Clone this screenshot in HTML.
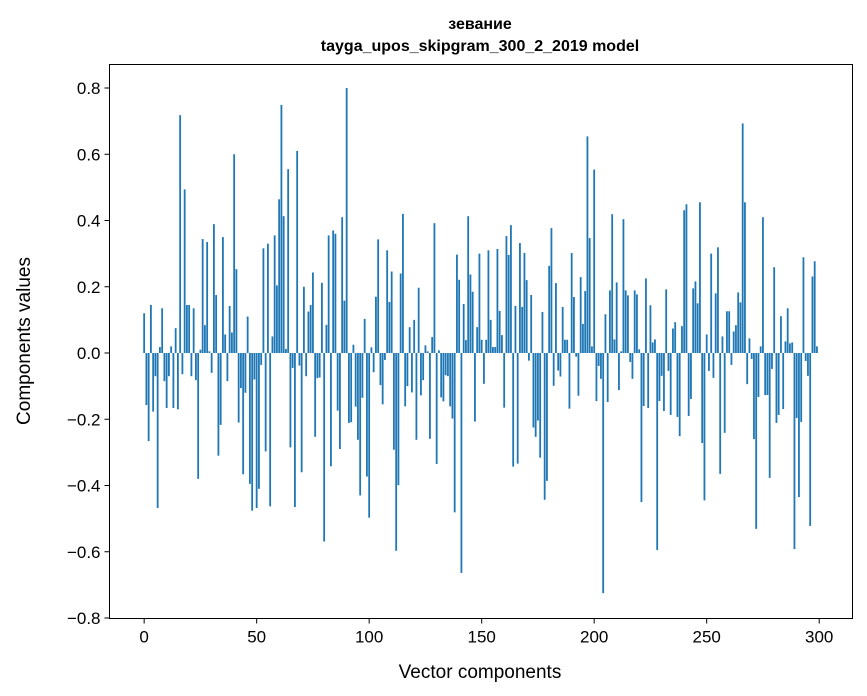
<!DOCTYPE html>
<html><head><meta charset="utf-8"><style>
html,body{margin:0;padding:0;background:#fff;}
svg{display:block;font-family:"Liberation Sans","DejaVu Sans",sans-serif;}
</style></head><body>
<svg id="chart" width="867" height="696" viewBox="0 0 867 696">
<text x="480" y="29" text-anchor="middle" font-size="16" font-weight="bold">зевание</text>
<text x="480" y="51" text-anchor="middle" font-size="16" font-weight="bold">tayga_upos_skipgram_300_2_2019 model</text>
<g id="bars"></g>
<g id="xticks"></g>
<g id="yticks"></g>
<rect x="109.5" y="64.5" width="743" height="554" fill="none" stroke="#000" stroke-width="1"/>
<text x="480" y="678" text-anchor="middle" font-size="19">Vector components</text>
<text transform="translate(30,341) rotate(-90)" text-anchor="middle" font-size="19">Components values</text>
</svg>
<script>
const values = [
.12,-.157,-.266,.145,-.177,-.07,-.468,.018,.135,-.085,
-.166,-.07,.02,-.166,.075,-.17,.718,-.064,.494,.145,
.145,-.07,.135,-.082,-.38,.01,.344,.084,.335,.005,
-.06,.389,.175,-.31,-.217,.35,.056,-.085,.142,.062,
.6,.253,-.21,-.106,-.366,-.12,.11,-.395,-.476,-.08,
-.468,-.41,-.036,.316,-.297,.33,-.463,.05,.355,.204,
.464,.749,.413,.012,.555,-.285,-.045,-.465,.61,-.038,
-.36,.2,-.07,.125,.145,.243,-.253,-.076,-.074,.212,
-.569,.085,.355,-.342,.37,.36,-.174,-.29,.41,.158,
.8,-.211,-.209,.025,-.162,-.262,-.43,-.135,.103,-.373,
-.497,.017,-.058,.17,.343,-.097,-.155,-.021,.31,.154,
.246,-.292,-.597,-.399,.24,.42,-.161,-.1,.078,-.119,
.1,-.262,.197,-.128,-.082,.023,.005,-.259,.048,.392,
-.335,.008,-.134,-.146,-.067,-.07,-.161,-.198,-.481,.297,
.221,-.664,.148,.039,.413,.237,.185,-.207,.078,.3,
.04,-.093,.04,.31,.1,.018,.018,.314,.127,.054,
-.165,.353,.296,.386,-.343,.142,-.334,.332,.139,.302,
.22,-.023,.175,-.225,-.253,-.204,-.316,.124,-.443,-.386,
.263,.377,-.099,.211,-.053,-.071,.139,.04,.04,-.168,
.302,.169,-.011,-.129,.229,.088,.187,.654,.347,.02,
.554,-.145,-.039,-.078,-.725,.117,-.148,.189,.419,.041,
.213,-.112,.005,.404,.189,.174,-.027,-.078,.189,.177,
.011,-.45,-.16,.225,-.166,.144,.032,.041,-.595,-.145,
-.069,-.175,.192,-.054,-.187,.074,.093,-.193,-.251,.081,
.431,.449,-.19,-.139,.195,.216,.15,.455,-.272,-.445,
.056,-.054,.3,-.075,.18,.319,-.365,.05,-.241,.126,
.126,-.036,.065,.084,.183,.153,.693,.455,-.094,.044,
-.018,-.26,-.531,-.133,.02,.41,-.127,-.127,-.377,-.048,
.259,-.211,-.187,.111,-.169,.035,.135,.029,.032,-.592,
-.196,-.435,-.208,.289,-.024,-.069,-.522,.231,.277,.02
];
const xTicks = [0,50,100,150,200,250,300];
const yTicks = [-0.8,-0.6,-0.4,-0.2,0,0.2,0.4,0.6,0.8];

const NS = "http://www.w3.org/2000/svg";
const L=109.5,R=852.5,T=64.5,B=618.5;
const xMin=-15.4,xMax=314.8,yMin=-0.8,yMax=0.875;
function xs(v){return L+(v-xMin)/(xMax-xMin)*(R-L);}
function ys(v){return 353-v*331.25;}
const bars=document.getElementById('bars');
values.forEach((v,i)=>{
  const r=document.createElementNS(NS,'rect');
  const x0=xs(i-0.4),x1=xs(i+0.4);
  const y0=Math.min(ys(v),ys(0)),y1=Math.max(ys(v),ys(0));
  r.setAttribute('x',x0);r.setAttribute('width',x1-x0);
  r.setAttribute('y',y0);r.setAttribute('height',Math.max(y1-y0,0.3));
  r.setAttribute('fill','#1f77b4');
  
  
  bars.appendChild(r);
});
const xg=document.getElementById('xticks');
xTicks.forEach(t=>{
  const x=xs(t);
  const l=document.createElementNS(NS,'line');
  l.setAttribute('x1',x);l.setAttribute('x2',x);l.setAttribute('y1',B);l.setAttribute('y2',B+5);
  l.setAttribute('stroke','#000');
  
  
  xg.appendChild(l);
  const tx=document.createElementNS(NS,'text');
  tx.setAttribute('x',x);tx.setAttribute('y',B+24);tx.setAttribute('text-anchor','middle');tx.setAttribute('font-size','17');
  tx.textContent=t;
  
  
  xg.appendChild(tx);
});
const yg=document.getElementById('yticks');
yTicks.forEach(t=>{
  const y=ys(t);
  const l=document.createElementNS(NS,'line');
  l.setAttribute('x1',L-5);l.setAttribute('x2',L);l.setAttribute('y1',y);l.setAttribute('y2',y);
  l.setAttribute('stroke','#000');
  
  
  yg.appendChild(l);
  const tx=document.createElementNS(NS,'text');
  tx.setAttribute('x',L-9);tx.setAttribute('y',y+6);tx.setAttribute('text-anchor','end');tx.setAttribute('font-size','17');
  tx.textContent=(t<0?'\u2212':'')+Math.abs(t).toFixed(1);
  
  
  yg.appendChild(tx);
});
</script>
</body></html>
